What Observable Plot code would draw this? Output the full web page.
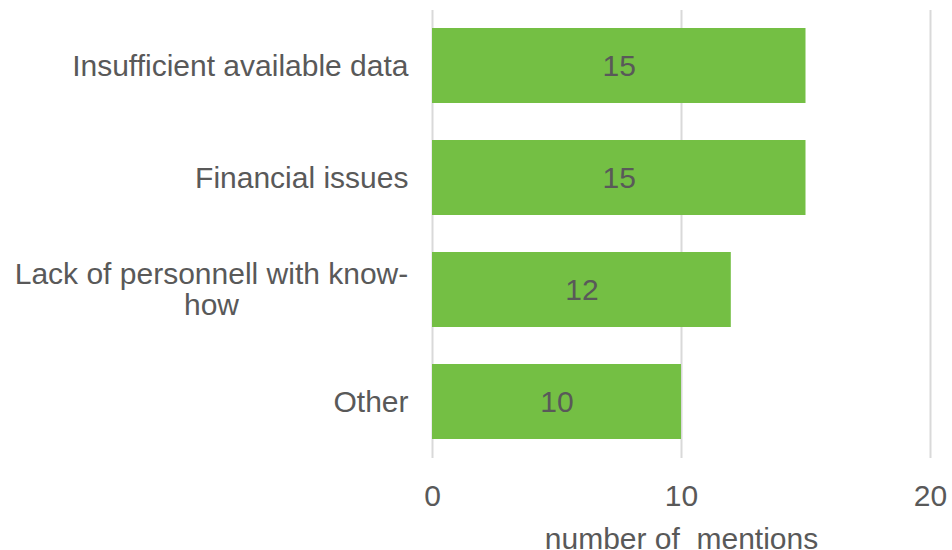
<!DOCTYPE html>
<html>
<head>
<meta charset="utf-8">
<script src="https://cdn.jsdelivr.net/npm/d3@7"></script>
<script src="https://cdn.jsdelivr.net/npm/@observablehq/plot@0.6"></script>
<style>
  html, body { margin: 0; padding: 0; background: #fff; }
</style>
</head>
<body>
<div id="chart"></div>
<script>
const categories = ["Insufficient available data", "Financial issues", "Lack of personnell with know-how", "Other"];
const labelLines = ["Insufficient available data", "Financial issues", "Lack of personnell with know-\nhow", "Other"];
const values = [15, 15, 12, 10];
const xTicks = [0, 10, 20];
const xTitle = "number of \u00A0mentions";

const data = categories.map((c, i) => ({cat: c, label: labelLines[i], value: values[i], wrapped: labelLines[i].includes("\n")}));

const FS = 30;
const chart = Plot.plot({
  width: 952,
  height: 550,
  marginLeft: 432,
  marginRight: 22,
  marginTop: 10,
  marginBottom: 92,
  style: {fontFamily: "'Liberation Sans', Arial, sans-serif", fontSize: FS + "px", color: "#595959", background: "#fff"},
  x: {domain: [0, 20], ticks: xTicks},
  y: {domain: categories, paddingInner: 0.33, paddingOuter: 0.165},
  marks: [
    Plot.ruleX(xTicks, {stroke: "#d9d9d9", strokeWidth: 2}),
    Plot.barX(data, {x: "value", y: "cat", fill: "#74bf44"}),
    Plot.text(data, {x: d => d.value / 2, y: "cat", text: d => String(d.value), fill: "#595959", fontSize: FS}),
    Plot.text(data.filter(d => !d.wrapped), {x: 0, y: "cat", text: "label", textAnchor: "end", dx: -24, fill: "#595959", fontSize: FS}),
    Plot.text(data.filter(d => d.wrapped), {x: 0, y: "cat", text: "label", textAnchor: "middle", dx: -221, fill: "#595959", fontSize: FS, lineHeight: 1.03}),
    Plot.axisX({ticks: xTicks, tickSize: 0, tickPadding: 26, fontSize: FS, label: null}),
    Plot.text([xTitle], {frameAnchor: "bottom", text: d => d, dy: 90, lineAnchor: "bottom", fill: "#595959", fontSize: FS}),
    Plot.axisY({ticks: [], label: null})
  ]
});
document.getElementById("chart").appendChild(chart);
</script>
</body>
</html>
